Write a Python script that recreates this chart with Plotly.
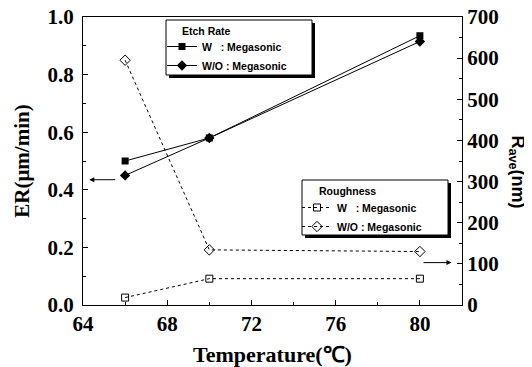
import plotly.graph_objects as go

temps = [66, 70, 80]
er_with = [0.50, 0.58, 0.935]
er_without = [0.45, 0.58, 0.915]
rough_with = [18, 64, 64]
rough_without = [595, 134, 130]

x_ticks = [64, 68, 72, 76, 80]
er_ticks = [0.0, 0.2, 0.4, 0.6, 0.8, 1.0]
r_ticks = [0, 100, 200, 300, 400, 500, 600, 700]

serif = "Liberation Serif"
sans = "Liberation Sans"

fig = go.Figure()
fig.add_trace(go.Scatter(x=temps, y=er_with, mode="lines+markers", name="W\u00a0\u00a0\u00a0: Megasonic",
                         line=dict(color="black", width=1),
                         marker=dict(symbol="square", size=7, color="black"), legend="legend"))
fig.add_trace(go.Scatter(x=temps, y=er_without, mode="lines+markers", name="W/O : Megasonic",
                         line=dict(color="black", width=1),
                         marker=dict(symbol="diamond", size=8, color="black"), legend="legend"))
fig.add_trace(go.Scatter(x=temps, y=rough_with, mode="lines+markers", name="W\u00a0\u00a0\u00a0: Megasonic",
                         line=dict(color="black", width=1, dash="dot"),
                         marker=dict(symbol="square-open", size=7, color="black", line=dict(width=1)),
                         yaxis="y2", legend="legend2"))
fig.add_trace(go.Scatter(x=temps, y=rough_without, mode="lines+markers", name="W/O : Megasonic",
                         line=dict(color="black", width=1, dash="dot"),
                         marker=dict(symbol="diamond-open", size=8, color="black", line=dict(width=1)),
                         yaxis="y2", legend="legend2"))

tickfont = dict(family=serif, size=21, color="black")
legfont = dict(family=sans, size=10.5, color="black", weight="bold")

# the page has an 8px body margin; positions below are page pixels
def px2paper(xp, yp):
    return (xp - 83) / 379, (305 - yp) / 288

# legend frames with drop shadows
for (x0, y0, x1, y1) in [(166, 20, 312, 75), (302, 180, 448, 235)]:
    a, b = px2paper(x0 + 3, y1 + 3)
    c, d = px2paper(x1 + 3, y0 + 3)
    fig.add_shape(type="rect", xref="paper", yref="paper", x0=a, y0=b, x1=c, y1=d,
                  fillcolor="black", line=dict(width=0), layer="above")
    a, b = px2paper(x0, y1)
    c, d = px2paper(x1, y0)
    fig.add_shape(type="rect", xref="paper", yref="paper", x0=a, y0=b, x1=c, y1=d,
                  fillcolor="white", line=dict(color="black", width=1), layer="above")

def bold(vals, fmt):
    return ["<b>" + fmt.format(v) + "</b>" for v in vals]

lx1, ly1 = px2paper(162, 32)
lx2, ly2 = px2paper(297, 193)

fig.update_layout(
    width=524, height=359,
    margin=dict(l=75, r=70, t=9, b=62, autoexpand=False),
    paper_bgcolor="white", plot_bgcolor="white",
    xaxis=dict(range=[64, 82], tickvals=x_ticks, ticktext=bold(x_ticks, "{}"), ticks="inside", ticklen=5,
               tickcolor="black", showline=True, linecolor="black", linewidth=1, mirror=True,
               showgrid=False, zeroline=False, tickfont=tickfont, automargin=False,
               ticklabeloverflow="allow",
               minor=dict(dtick=2, ticks="inside", ticklen=3, tickcolor="black"),
               title=dict(text="<b>Temperature(℃)</b>", font=dict(family=serif, size=22, color="black"), standoff=12)),
    yaxis=dict(range=[0, 1.0], tickvals=er_ticks, ticktext=bold(er_ticks, "{:.1f}"),
               ticks="inside", ticklen=5, tickcolor="black", showline=True, linecolor="black",
               showgrid=False, zeroline=False, tickfont=tickfont, automargin=False, ticklabelstandoff=4,
               ticklabeloverflow="allow",
               minor=dict(dtick=0.1, ticks="inside", ticklen=3, tickcolor="black"),
               title=dict(text="<b>ER(μm/min)</b>", font=dict(family=serif, size=21, color="black"), standoff=12)),
    yaxis2=dict(range=[0, 700], tickvals=r_ticks, ticktext=bold(r_ticks, "{}"), overlaying="y", side="right",
                ticks="inside", ticklen=5, tickcolor="black", showline=True, linecolor="black",
                showgrid=False, zeroline=False, tickfont=tickfont, automargin=False,
                ticklabeloverflow="allow",
                minor=dict(dtick=50, ticks="inside", ticklen=3, tickcolor="black")),
    legend=dict(x=lx1, y=ly1, xanchor="left", yanchor="top", bgcolor="rgba(0,0,0,0)",
                borderwidth=0, font=legfont, itemwidth=30, tracegroupgap=0),
    legend2=dict(x=lx2, y=ly2, xanchor="left", yanchor="top", bgcolor="rgba(0,0,0,0)",
                 borderwidth=0, font=legfont, itemwidth=30, tracegroupgap=0),
    showlegend=True,
)

# legend group titles
for txt, (xp, yp) in [("Etch Rate", (180, 31)), ("Roughness", (317, 191))]:
    ax_, ay_ = px2paper(xp, yp)
    fig.add_annotation(xref="paper", yref="paper", x=ax_, y=ay_, xanchor="left", yanchor="middle",
                       text="<b>" + txt + "</b>", showarrow=False,
                       font=dict(family=sans, size=10.5, color="black"))

# right axis title reading top-to-bottom
fig.add_annotation(xref="paper", yref="paper", x=1.145, y=0.46, xanchor="center", yanchor="middle",
                   text="<b>R<sub>ave</sub>(nm)</b>",
                   textangle=90, showarrow=False, font=dict(family=sans, size=18, color="black"))

# arrows indicating the axes
fig.add_annotation(xref="x", yref="y", axref="x", ayref="y", x=64.3, y=0.435, ax=65.6, ay=0.435,
                   showarrow=True, arrowhead=2, arrowsize=1, arrowwidth=1, arrowcolor="black", text="")
fig.add_annotation(xref="x", yref="y2", axref="x", ayref="y2", x=81.5, y=103, ax=80.1, ay=103,
                   showarrow=True, arrowhead=2, arrowsize=1, arrowwidth=1, arrowcolor="black", text="")

fig.write_html("out.html")
